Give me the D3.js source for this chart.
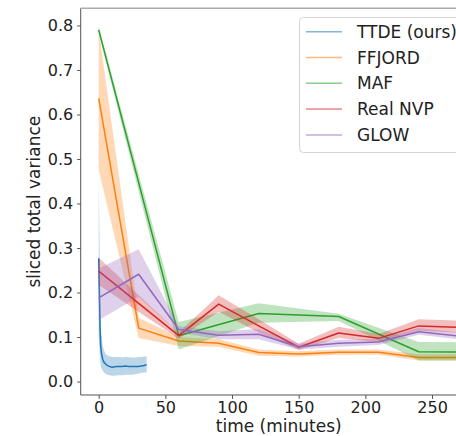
<!DOCTYPE html>
<html><head><meta charset="utf-8">
<script src="https://cdn.jsdelivr.net/npm/d3@7"></script>
<style>body{margin:0;background:#fff;} text{font-family:"DejaVu Sans",sans-serif;fill:#222;}</style>
</head><body>
<svg id="c" width="456" height="436"></svg>
<script>
const seriesNames = ["TTDE (ours)", "FFJORD", "MAF", "Real NVP", "GLOW"];
const colors = ["#1f77b4", "#ff7f0e", "#2ca02c", "#d62728", "#9467bd"];

const ttdeT = [0, 0.5, 1, 1.5, 2, 3, 4, 5, 6, 8, 10, 12, 14, 16, 18, 20, 22, 24, 26, 28, 30, 32, 34, 36];
const ttdeV = [0.277, 0.2, 0.12, 0.08, 0.065, 0.05, 0.043, 0.04, 0.037, 0.034, 0.032, 0.033, 0.034, 0.034, 0.034, 0.035, 0.034, 0.034, 0.034, 0.034, 0.034, 0.035, 0.036, 0.038];
const ttdeLo = [0.10, 0.08, 0.05, 0.035, 0.03, 0.025, 0.02, 0.018, 0.016, 0.014, 0.013, 0.013, 0.014, 0.014, 0.014, 0.015, 0.015, 0.015, 0.016, 0.017, 0.018, 0.019, 0.02, 0.02];
const ttdeHi = [0.46, 0.35, 0.22, 0.14, 0.11, 0.08, 0.07, 0.063, 0.06, 0.057, 0.055, 0.055, 0.055, 0.055, 0.054, 0.055, 0.055, 0.054, 0.054, 0.054, 0.055, 0.055, 0.056, 0.057];

const ffjordT = [0, 30, 60, 90, 120, 150, 180, 210, 240, 270];
const ffjordV = [0.636, 0.12, 0.091, 0.086, 0.065, 0.062, 0.066, 0.066, 0.054, 0.054];
const ffjordLo = [0.475, 0.098, 0.08, 0.078, 0.058, 0.056, 0.06, 0.06, 0.047, 0.047];
const ffjordHi = [0.79, 0.143, 0.10, 0.095, 0.072, 0.068, 0.072, 0.072, 0.061, 0.061];

const mafT = [0, 60, 120, 180, 240, 270];
const mafV = [0.79, 0.103, 0.153, 0.146, 0.067, 0.066];
const mafLo = [0.782, 0.072, 0.132, 0.136, 0.047, 0.047];
const mafHi = [0.798, 0.134, 0.176, 0.152, 0.089, 0.088];

const nvpT = [0, 60, 90, 120, 150, 180, 210, 240, 270];
const nvpV = [0.248, 0.103, 0.174, 0.125, 0.077, 0.109, 0.097, 0.125, 0.122];
const nvpLo = [0.217, 0.096, 0.157, 0.11, 0.071, 0.098, 0.088, 0.114, 0.109];
const nvpHi = [0.278, 0.11, 0.194, 0.14, 0.085, 0.123, 0.107, 0.14, 0.137];

const glowT = [0, 30, 60, 90, 120, 150, 180, 210, 240, 270];
const glowV = [0.188, 0.241, 0.117, 0.104, 0.106, 0.078, 0.086, 0.089, 0.112, 0.102];
const glowLo = [0.138, 0.19, 0.11, 0.095, 0.095, 0.072, 0.078, 0.082, 0.105, 0.095];
const glowHi = [0.254, 0.297, 0.125, 0.113, 0.118, 0.085, 0.094, 0.096, 0.12, 0.11];

const xTicks = [0, 50, 100, 150, 200, 250];
const yTicks = [0.0, 0.1, 0.2, 0.3, 0.4, 0.5, 0.6, 0.7, 0.8];

const series = [
  {t: ttdeT, v: ttdeV, lo: ttdeLo, hi: ttdeHi},
  {t: ffjordT, v: ffjordV, lo: ffjordLo, hi: ffjordHi},
  {t: mafT, v: mafV, lo: mafLo, hi: mafHi},
  {t: nvpT, v: nvpV, lo: nvpLo, hi: nvpHi},
  {t: glowT, v: glowV, lo: glowLo, hi: glowHi}
];

const L = 80.7, R = 476.7, T = 8.3, B = 395;
const x = d3.scaleLinear().domain([-13.5, 283.5]).range([L, R]);
const y = d3.scaleLinear().domain([-0.0303, 0.8386]).range([B, T]);

const svg = d3.select("#c");
svg.append("defs").append("clipPath").attr("id", "clip")
  .append("rect").attr("x", L).attr("y", T).attr("width", R - L).attr("height", B - T);

const plot = svg.append("g").attr("clip-path", "url(#clip)");

series.forEach((s, i) => {
  const pts = s.t.map((t, k) => ({t, v: s.v[k], lo: s.lo[k], hi: s.hi[k]}));
  plot.append("path").datum(pts)
    .attr("d", d3.area().x(d => x(d.t)).y0(d => y(d.lo)).y1(d => y(d.hi)))
    .attr("fill", colors[i]).attr("fill-opacity", 0.3).attr("stroke", "none");
  plot.append("path").datum(pts)
    .attr("d", d3.line().x(d => x(d.t)).y(d => y(d.v)))
    .attr("fill", "none").attr("stroke", colors[i]).attr("stroke-width", 1.5)
    .attr("stroke-linejoin", "round");
});

// spines
svg.append("line").attr("x1", L).attr("x2", L).attr("y1", T).attr("y2", B).attr("stroke", "#555").attr("stroke-width", 1);
svg.append("line").attr("x1", L).attr("x2", R).attr("y1", B).attr("y2", B).attr("stroke", "#555").attr("stroke-width", 1);
svg.append("line").attr("x1", L).attr("x2", R).attr("y1", T).attr("y2", T).attr("stroke", "#aaa").attr("stroke-width", 1.5);

// axes ticks
const xAxis = svg.append("g").attr("transform", `translate(0,${B})`)
  .call(d3.axisBottom(x).tickValues(xTicks).tickSize(4).tickPadding(3).tickFormat(d3.format("d")));
xAxis.select(".domain").remove();
xAxis.selectAll("line").attr("stroke", "#555");
xAxis.selectAll("text").attr("font-size", 16).attr("font-family", "DejaVu Sans").attr("fill", "#222");

const yAxis = svg.append("g").attr("transform", `translate(${L},0)`)
  .call(d3.axisLeft(y).tickValues(yTicks).tickSize(3.5).tickPadding(4).tickFormat(d3.format(".1f")));
yAxis.select(".domain").remove();
yAxis.selectAll("line").attr("stroke", "#555");
yAxis.selectAll("text").attr("font-size", 16).attr("font-family", "DejaVu Sans").attr("fill", "#222");

// axis labels
svg.append("text").attr("x", (L + R) / 2).attr("y", 432).attr("text-anchor", "middle")
  .attr("font-size", 17).text("time (minutes)");
svg.append("text").attr("transform", `translate(40,${(T + B) / 2}) rotate(-90)`).attr("text-anchor", "middle")
  .attr("font-size", 17).text("sliced total variance");

// legend
const lg = svg.append("g");
lg.append("rect").attr("x", 299.5).attr("y", 17.5).attr("width", 170).attr("height", 135).attr("rx", 4)
  .attr("fill", "#fff").attr("fill-opacity", 0.8).attr("stroke", "#d5d5d5");
seriesNames.forEach((n, i) => {
  const cy = 31.7 + i * 25.8;
  lg.append("line").attr("x1", 306).attr("x2", 342).attr("y1", cy).attr("y2", cy)
    .attr("stroke", colors[i]).attr("stroke-width", 1.5).attr("stroke-opacity", 0.55);
  lg.append("text").attr("x", 357).attr("y", cy + 6).attr("font-size", 17).text(n);
});
</script>
</body></html>
